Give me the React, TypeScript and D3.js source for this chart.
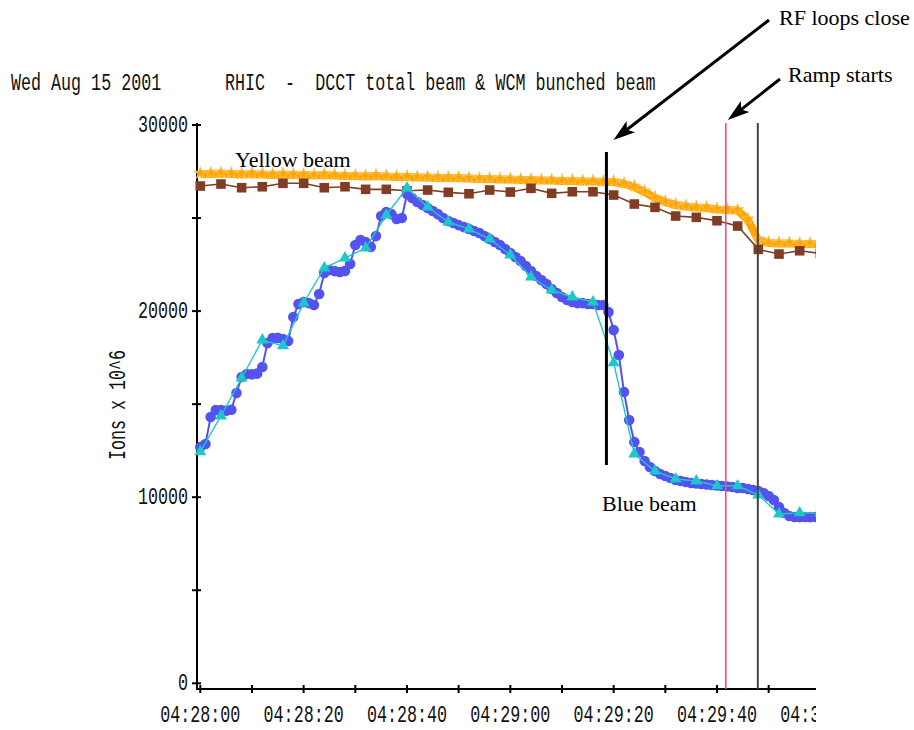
import React from 'react';
import * as d3 from 'd3';

const W = 914;
const H = 730;

// ---- Data (seconds after 04:28:00) ----
const yellowStep = 2; // seconds between samples
const yellowValues = [
  27365, 27365, 27392, 27365, 27338, 27365, 27338, 27311, 27338, 27311, 27311,
  27284, 27311, 27284, 27257, 27257, 27230, 27257, 27230, 27204, 27204,
  27177, 27177, 27150, 27150, 27150, 27123, 27096, 27096, 27069, 27069,
  27042, 27042, 27016, 27016, 26989, 26989, 26962, 26962, 26935,
  26935, 26828, 26667, 26398, 26075, 25860, 25699, 25619, 25565, 25538, 25458,
  25431, 25404, 24894, 23819, 23658, 23631, 23631, 23604, 23604, 23604,
];

const brownStep = 4;
const brownValues = [
  26720, 26828, 26629, 26683, 26866, 26866, 26629, 26683, 26543, 26543,
  26468, 26505, 26382, 26306, 26505, 26398, 26597, 26328, 26414, 26414,
  26237, 25753, 25575, 25108, 25038, 24855, 24570, 23317, 23065, 23242, 23102,
];

const blueStep = 1;
const blueValues = [
  12700, 12860, 14310, 14680, 14680, 14650, 14700, 15600, 16460, 16620,
  16600, 16640, 17000, 18280, 18550, 18560, 18500, 18390, 19680, 20380,
  20490, 20430, 20330, 20920, 22050, 22210, 22150, 22100, 22160, 22530,
  23550, 23820, 23710, 23440, 24030, 25110, 25320, 25210, 24950, 25000,
  26290, 26075, 25860, 25700, 25540, 25380, 25210, 25000, 24840, 24730,
  24620, 24515, 24410, 24300, 24195, 24030, 23870, 23710, 23550, 23335,
  23120, 22905, 22690, 22420, 22150, 21885, 21670, 21455, 21185, 20970,
  20755, 20595, 20490, 20430, 20430, 20380, 20380, 20325, 20325, 19950,
  18980, 17640, 15650, 14150, 12965, 12430, 11945, 11622, 11407, 11246,
  11138, 11030, 10923, 10870, 10815, 10762, 10735, 10708, 10681, 10654,
  10628, 10600, 10574, 10547, 10493, 10493, 10440, 10386, 10332, 10225,
  10064, 9849, 9473, 9150, 8990, 8936, 8930, 8940, 8930, 8935, 8930,
];

const cyanStep = 4;
const cyanValues = [
  12445, 14363, 16405, 18447, 18130, 20435, 22316, 22853, 23390, 25163,
  26614, 25593, 24787, 24411, 23873, 23014, 21832, 21133, 20757, 20489,
  17228, 12321, 11408, 10978, 10870, 10613, 10613, 10118, 9097, 9156, 9151,
];

const xTickSeconds = [0, 20, 40, 60, 80, 100, 120];
const xTickLabels = ['04:28:00', '04:28:20', '04:28:40', '04:29:00', '04:29:20', '04:29:40', '04:30:00'];
const xMinorSeconds = [0, 10, 20, 30, 40, 50, 60, 70, 80, 90, 100, 110, 120];
const yTickValues = [0, 5000, 10000, 15000, 20000, 25000, 30000];
const yLabelValues = [0, 10000, 20000, 30000];
const yLabelTexts = ['0', '10000', '20000', '30000'];

// event markers (seconds after 04:28:00)
const rfCloseTime = 78.6;
const rfCloseRange = [11730, 28547];
const rampStartTime = 101.7;
const otherTime = 107.9;

const titleLeft = 'Wed Aug 15 2001';
const titleRight = 'RHIC  -  DCCT total beam & WCM bunched beam';

const MONO = "'Liberation Mono', 'DejaVu Sans Mono', monospace";
const SERIF = "'Liberation Serif', 'DejaVu Serif', serif";
const MONO_SIZE = 16.7; // ~10px per character
const TALL = 1.38; // vertical stretch of the narrow screen font

const C_ORANGE = '#ffa500';
const C_BROWN = '#803c24';
const C_BLUE = '#5353f0';
const C_CYAN = '#1ec8c8';

export default function App() {
  const x = d3.scaleLinear().domain([0, 120]).range([200.3, 200.3 + 5.167 * 120]);
  const y = d3.scaleLinear().domain([0, 30000]).range([683.3, 125]);

  const axisX = 197;
  const axisY = 689;
  const plotTop = 123;
  const plotRight = 816;

  const mk = (vals: number[], step: number) => vals.map((v, i) => [i * step, v] as [number, number]);
  const yellow = mk(yellowValues, yellowStep);
  const brown = mk(brownValues, brownStep);
  const blue = mk(blueValues, blueStep);
  const cyan = mk(cyanValues, cyanStep);

  const line = d3.line<[number, number]>().x((d) => x(d[0])).y((d) => y(d[1]));

  const star = d3.symbol().type(d3.symbolStar).size(48)() as string;
  const square = d3.symbol().type(d3.symbolSquare).size(92)() as string;
  const circle = d3.symbol().type(d3.symbolCircle).size(88)() as string;
  const tri = d3.symbol().type(d3.symbolTriangle).size(62)() as string;

  const arrow = (x1: number, y1: number, x2: number, y2: number, key: string) => {
    const ang = Math.atan2(y2 - y1, x2 - x1);
    const len = 22;
    const half = 7;
    const bx = x2 - len * Math.cos(ang);
    const by = y2 - len * Math.sin(ang);
    const px = -Math.sin(ang) * half;
    const py = Math.cos(ang) * half;
    return (
      <g key={key}>
        <line x1={x1} y1={y1} x2={bx + 6 * Math.cos(ang)} y2={by + 6 * Math.sin(ang)} stroke="#000" strokeWidth={3} />
        <path d={`M${x2},${y2}L${bx + px},${by + py}L${bx + 5 * Math.cos(ang)},${by + 5 * Math.sin(ang)}L${bx - px},${by - py}Z`} fill="#000" />
      </g>
    );
  };

  const rfX = x(rfCloseTime);
  const rampX = x(rampStartTime);

  const mono = (key: string, tx: number, ty: number, s: string, anchor: 'start' | 'middle' | 'end' = 'start', rot = 0) => (
    <text key={key} transform={`translate(${tx},${ty})${rot ? ` rotate(${rot})` : ''} scale(1,${TALL})`}
      textAnchor={anchor} fontFamily={MONO} fontSize={MONO_SIZE} fill="#111" style={{ whiteSpace: 'pre' }}>
      {s}
    </text>
  );

  return (
    <svg width={W} height={H} style={{ position: 'absolute', left: 0, top: 0, display: 'block', background: '#fff' }}>
      <defs>
        <clipPath id="plotclip">
          <rect x={0} y={0} width={plotRight} height={H} />
        </clipPath>
      </defs>
      <rect x={0} y={0} width={W} height={H} fill="#fff" />

      {/* Title */}
      {mono('tl', 11, 90, titleLeft)}
      {mono('tr', 225, 90, titleRight)}

      {/* Y label */}
      {mono('ylab', 125, 405, 'Ions x 10^6', 'middle', -90)}

      <g clipPath="url(#plotclip)">
        {/* axes */}
        <line x1={axisX} y1={plotTop} x2={axisX} y2={axisY + 1} stroke="#000" strokeWidth={2} />
        <line x1={axisX} y1={axisY} x2={plotRight} y2={axisY} stroke="#000" strokeWidth={2} />
        {yTickValues.map((v) => (
          <line key={'yt' + v} x1={192} x2={201} y1={y(v)} y2={y(v)} stroke="#000" strokeWidth={2} />
        ))}
        {yLabelValues.map((v, i) => mono('yl' + v, 188, y(v) + 7, yLabelTexts[i], 'end'))}
        {xMinorSeconds.map((s) => (
          <line key={'xt' + s} x1={x(s)} x2={x(s)} y1={axisY - 4} y2={axisY + 4} stroke="#000" strokeWidth={2} />
        ))}
        {xTickSeconds.map((s, i) => mono('xl' + s, x(s), 722, xTickLabels[i], 'middle'))}

        {/* Yellow (orange) */}
        <path d={line(yellow) || ''} fill="none" stroke={C_ORANGE} strokeWidth={8} strokeLinejoin="round" />
        {yellow.map((d, i) => (
          <path key={'ys' + i} d={star} transform={`translate(${x(d[0])},${y(d[1]) - 1})`} fill={C_ORANGE} stroke="#ffc86a" strokeWidth={0.8} />
        ))}

        {/* Brown squares */}
        <path d={line(brown) || ''} fill="none" stroke={C_BROWN} strokeWidth={1.6} />
        {brown.map((d, i) => (
          <path key={'bs' + i} d={square} transform={`translate(${x(d[0])},${y(d[1])})`} fill={C_BROWN} />
        ))}

        {/* Blue circles */}
        <path d={line(blue) || ''} fill="none" stroke={C_BLUE} strokeWidth={2} />
        {blue.map((d, i) => (
          <path key={'bc' + i} d={circle} transform={`translate(${x(d[0])},${y(d[1])})`} fill={C_BLUE} />
        ))}

        {/* Cyan triangles */}
        <path d={line(cyan) || ''} fill="none" stroke={C_CYAN} strokeWidth={1.4} />
        {cyan.map((d, i) => (
          <path key={'ct' + i} d={tri} transform={`translate(${x(d[0])},${y(d[1])})`} fill={C_CYAN} />
        ))}

        {/* event lines */}
        <line x1={rampX} x2={rampX} y1={plotTop} y2={axisY} stroke="#ff4a6e" strokeWidth={1.6} />
        <line x1={x(otherTime)} x2={x(otherTime)} y1={plotTop} y2={axisY} stroke="#444" strokeWidth={2} />
        <line x1={rfX} x2={rfX} y1={y(rfCloseRange[1])} y2={y(rfCloseRange[0])} stroke="#000" strokeWidth={3} />
      </g>

      {/* annotations */}
      <text x={235} y={167} fontFamily={SERIF} fontSize={22} fill="#000">Yellow beam</text>
      <text x={602} y={511} fontFamily={SERIF} fontSize={22} fill="#000">Blue beam</text>
      <text x={779} y={25} fontFamily={SERIF} fontSize={22} fill="#000">RF loops close</text>
      <text x={788} y={82} fontFamily={SERIF} fontSize={22} fill="#000">Ramp starts</text>
      {arrow(769, 20, rfX + 7, y(rfCloseRange[1]) - 12, 'a1')}
      {arrow(780, 79, rampX + 2, 120, 'a2')}
    </svg>
  );
}
